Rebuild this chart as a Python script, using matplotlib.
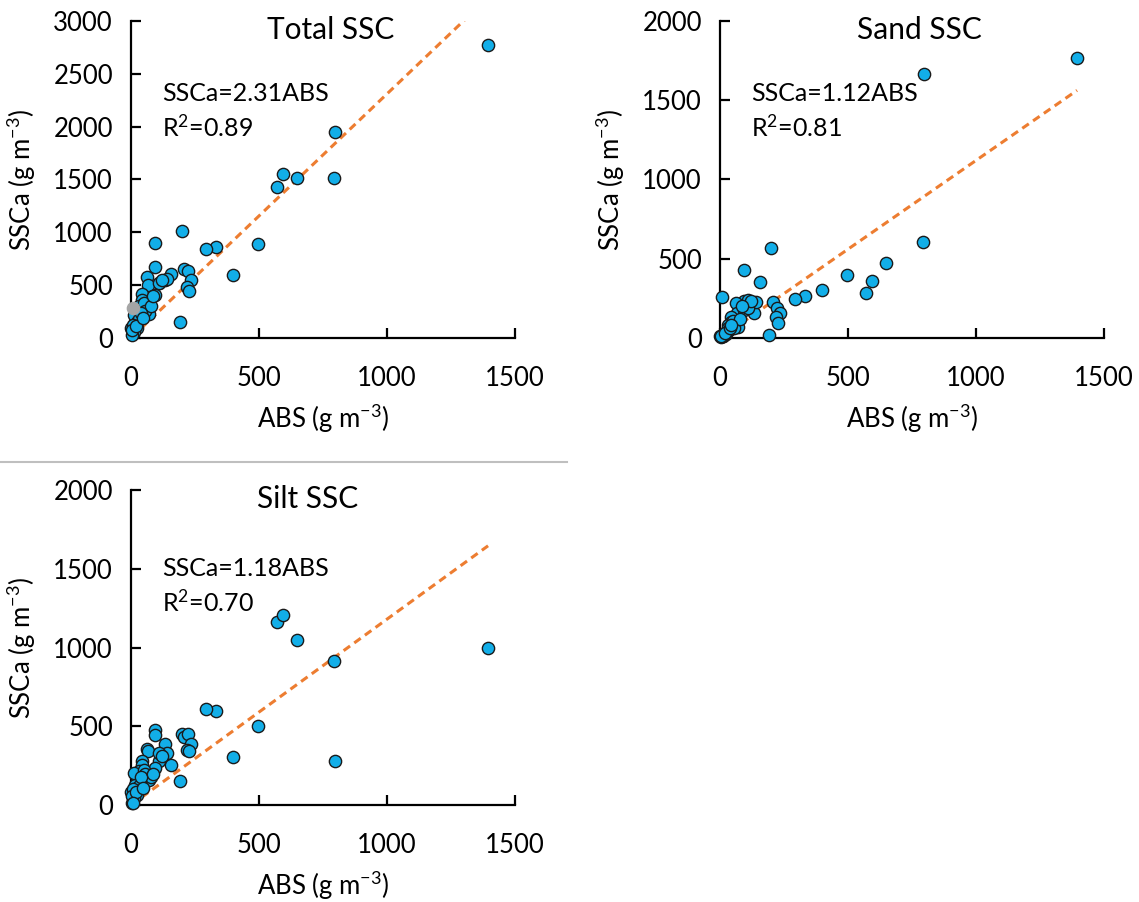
import numpy as np
import matplotlib
matplotlib.use("Agg")
import matplotlib.pyplot as plt

plt.rcParams['font.family'] = ['Lato', 'DejaVu Sans']
plt.rcParams['mathtext.fontset'] = 'custom'
plt.rcParams['mathtext.rm'] = 'Lato'
plt.rcParams['mathtext.it'] = 'Lato'

# ABS (g m-3) et SSCa mesurees (g m-3) pour chaque echantillon
abs_vals = [1395, 797, 795, 572, 593, 648, 497, 397, 331, 294,
            200, 192, 95, 208, 222, 233, 217, 225, 92, 155,
            133, 109, 64, 65, 94, 140, 44, 42, 32, 60,
            71, 35, 16, 2, 22, 12, 3, 12, 50, 55,
            80, 25, 30, 8, 5, 18, 40, 110, 120, 85, 45]
total_ssc = [2770, 1945, 1515, 1430, 1555, 1515, 890, 594, 860, 845,
             1012, 152, 900, 654, 632, 547, 484, 443, 670, 607,
             547, 522, 573, 497, 406, 560, 412, 358, 305, 290,
             226, 201, 154, 97, 91, 59, 30, 220, 330, 260,
             300, 150, 180, 120, 80, 110, 240, 520, 545, 400, 190]
sand_ssc = [1767, 1666, 606, 286, 360, 475, 397, 300, 268, 248,
            566, 19, 429, 227, 191, 156, 130, 97, 236, 353,
            160, 240, 219, 156, 177, 230, 134, 103, 80, 90,
            71, 50, 20, 10, 25, 12, 5, 15, 110, 60,
            120, 40, 60, 10, 15, 30, 65, 190, 235, 200, 80]
silt_ssc = [997, 279, 914, 1160, 1205, 1050, 500, 305, 595, 609,
            450, 150, 476, 430, 451, 387, 349, 346, 444, 254,
            387, 281, 355, 343, 233, 330, 279, 255, 218, 200,
            159, 150, 127, 85, 63, 45, 11, 205, 220, 200,
            180, 110, 120, 100, 60, 80, 175, 330, 310, 200, 110]

# point gris (hors serie) du panneau total
grey_abs = [7]
grey_total = [280]
grey_sand = [261]
grey_silt = [15]

panels = [
    # titre, y, pente, r2, ylim, [left, bottom, width, height], pos titre, pos texte
    ("Total SSC", total_ssc, 2.31, "0.89", 3000, [0.1150, 0.6253, 0.3371, 0.3514], (0.52, 0.972), (0.08, 0.77), True),
    ("Sand SSC", sand_ssc, 1.12, "0.81", 2000, [0.6321, 0.6253, 0.3371, 0.3514], (0.52, 0.972), (0.08, 0.77), False),
    ("Silt SSC", silt_ssc, 1.18, "0.70", 2000, [0.1150, 0.1075, 0.3371, 0.3492], (0.46, 0.972), (0.08, 0.75), False),
]

fig = plt.figure(figsize=(11.39, 9.02), dpi=100)

for titre, y, pente, r2, ymax, rect, pos_t, pos_eq, gris in panels:
    ax = fig.add_axes(rect)
    ax.scatter(abs_vals, y, s=78, color='#12AEE8', edgecolors='#1a1a1a',
               linewidths=1.0, zorder=3, clip_on=False)
    if gris:
        ax.scatter(grey_abs, grey_total, s=78, color='#A5A5A5', edgecolors='#A5A5A5',
                   linewidths=1.0, zorder=4, clip_on=False)
    else:
        autre = grey_sand if titre.startswith("Sand") else grey_silt
        ax.scatter(grey_abs, autre, s=78, color='#12AEE8', edgecolors='#1a1a1a',
                   linewidths=1.0, zorder=3, clip_on=False)
    # droite de regression passant par l'origine
    xl = np.array([0, max(abs_vals)])
    ax.plot(xl, pente * xl, color='#ED7D31', lw=2.2, dashes=(2.6, 1.7), zorder=2)

    ax.set_xlim(0, 1500)
    ax.set_ylim(0, ymax)
    ax.set_xticks(np.arange(0, 1501, 500))
    ax.set_yticks(np.arange(0, ymax + 1, 500))
    for s in ['top', 'right']:
        ax.spines[s].set_visible(False)
    for s in ['left', 'bottom']:
        ax.spines[s].set_linewidth(1.6)
        ax.spines[s].set_color('black')
    ax.tick_params(direction='in', length=7, width=1.6, labelsize=18.5)
    ax.tick_params(axis='x', pad=20)
    ax.tick_params(axis='y', pad=13)

    ax.text(pos_t[0], pos_t[1], titre, transform=ax.transAxes, ha='center',
            va='center', fontsize=21.5)
    ax.text(pos_eq[0], pos_eq[1], "SSCa=%.2fABS" % pente, transform=ax.transAxes,
            ha='left', va='center', fontsize=18)
    ax.text(pos_eq[0], pos_eq[1] - 0.107, "R$^2$=" + r2, transform=ax.transAxes,
            ha='left', va='center', fontsize=18)
    ax.set_xlabel("ABS (g m$^{-3}$)", fontsize=18.5, labelpad=8)
    ax.set_ylabel("SSCa (g m$^{-3}$)", fontsize=18.5, labelpad=11)

# ligne grise de separation
fig.add_artist(plt.Line2D([0, 567 / 1139], [1 - 462 / 902, 1 - 462 / 902],
                          color='#BFBFBF', lw=1.5, transform=fig.transFigure))

fig.savefig("out.png", dpi=100)
